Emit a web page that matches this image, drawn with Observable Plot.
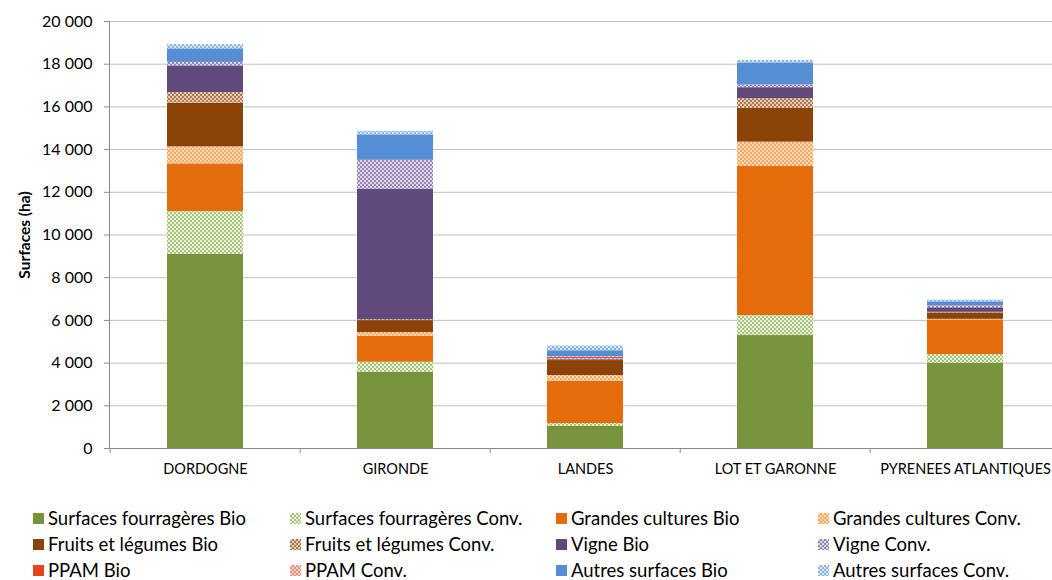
<!DOCTYPE html>
<html>
<head>
<meta charset="utf-8">
<script src="https://cdn.jsdelivr.net/npm/d3@7"></script>
<script src="https://cdn.jsdelivr.net/npm/@observablehq/plot@0.6"></script>
<style>
  html, body { margin: 0; padding: 0; background: #fff; overflow: hidden; width: 1052px; height: 580px; }
  #chart { position: relative; width: 1052px; height: 580px; overflow: hidden; font-family: Lato, "Open Sans", sans-serif; }
  #chart > svg { display: block; max-width: none !important; width: 1062px; height: 490px; }
  g[aria-label="y-axis label"] text { font-weight: bold; font-size: 15.5px; }
  #legend { position: absolute; left: 33px; top: 505px; display: grid; grid-template-columns: 257px 266px 262px 240px; grid-auto-rows: 26px; font-size: 18.5px; color: #000; }
  #legend div { display: flex; align-items: center; white-space: nowrap; }
  #legend svg { margin-right: 4px; }
</style>
</head>
<body>
<div id="chart"></div>
<script>
const regions = ["DORDOGNE", "GIRONDE", "LANDES", "LOT ET GARONNE", "PYRENEES ATLANTIQUES"];
const seriesNames = [
  "Surfaces fourragères Bio", "Surfaces fourragères Conv.",
  "Grandes cultures Bio", "Grandes cultures Conv.",
  "Fruits et légumes Bio", "Fruits et légumes Conv.",
  "Vigne Bio", "Vigne Conv.",
  "PPAM Bio", "PPAM Conv.",
  "Autres surfaces Bio", "Autres surfaces Conv."
];
// values per region, in the order of `regions`
const fourrageresBio  = [9090, 3570, 1050, 5290, 4000];
const fourrageresConv = [2010,  470,  120,  940,  400];
const grandesBio      = [2230, 1220, 1980, 6980, 1620];
const grandesConv     = [ 800,  170,  270, 1140,   30];
const fruitsBio       = [2040,  560,  700, 1580,  300];
const fruitsConv      = [ 500,   40,   20,  460,   30];
const vigneBio        = [1250, 6120,   40,  510,  210];
const vigneConv       = [ 160, 1340,   30,  120,   60];
const ppamBio         = [  10,   10,   50,   10,   20];
const ppamConv        = [   0,    0,   40,    0,   10];
const autresBio       = [ 630, 1190,  280, 1030,  190];
const autresConv      = [ 200,  170,  220,  120,   80];

const seriesValues = [fourrageresBio, fourrageresConv, grandesBio, grandesConv, fruitsBio, fruitsConv,
  vigneBio, vigneConv, ppamBio, ppamConv, autresBio, autresConv];

// fill style per series: solid colour or pattern [base, light]
const solid = { 0: "#77933C", 2: "#E46C0A", 4: "#8B4308", 6: "#604A7B", 8: "#E8431F", 10: "#558ED5" };
const patterns = { 1: ["#A9C47F", "#E8F0D8"], 3: ["#F9A65A", "#FDDDBF"], 5: ["#B07A50", "#E4CBB6"],
  7: ["#9A86B4", "#DED6E8"], 9: ["#EF8A7A", "#FBD6CF"], 11: ["#8DB3E2", "#D8E6F6"] };
const fills = seriesNames.map((s, i) => solid[i] ?? `url(#pat${i})`);

const data = [];
seriesNames.forEach((s, i) => regions.forEach((r, j) => data.push({ region: r, series: s, value: seriesValues[i][j] })));

const W = 1062, H = 490, mL = 109, mR = 0, mT = 21, mB = 42;
const step = (W - mL - mR) / regions.length;
const fmt = d => d3.format(",")(d).replace(/,/g, " ");

const plot = Plot.plot({
  width: W, height: H,
  marginLeft: mL, marginRight: mR, marginTop: mT, marginBottom: mB,
  style: { fontFamily: "Lato, 'Open Sans', sans-serif", fontSize: "16px", color: "#000", overflow: "visible", maxWidth: "none" },
  x: { domain: regions, paddingInner: 0.6, paddingOuter: 0.3, label: null },
  y: { domain: [0, 20000], label: null },
  color: { domain: seriesNames, range: fills },
  marks: [
    Plot.gridY({ interval: 2000, stroke: "#BFBFBF", strokeOpacity: 1, strokeWidth: 1 }),
    Plot.barY(data, { x: "region", y: "value", fill: "series", order: null }),
    Plot.ruleY([0], { stroke: "#898989" }),
    Plot.frame({ anchor: "left", stroke: "#898989" }),
    Plot.ruleX(regions, { x: d => d, y1: 0, y2: 0, insetBottom: -5, dx: -step / 2, stroke: "#898989" }),
    Plot.axisY({ interval: 2000, tickFormat: fmt, tickSize: 5, tickPadding: 12, stroke: "#898989",
      label: "Surfaces (ha)", labelAnchor: "center", labelArrow: "none", labelOffset: 91, fontSize: 16 }),
    Plot.axisX({ tickSize: 0, tickPadding: 15, fontSize: 14.5 })
  ]
});

// define patterns
const defs = d3.select(plot).insert("defs", ":first-child");
Object.entries(patterns).forEach(([i, [base, light]]) => {
  const p = defs.append("pattern").attr("id", `pat${i}`).attr("patternUnits", "userSpaceOnUse")
    .attr("width", 4).attr("height", 4);
  p.append("rect").attr("width", 4).attr("height", 4).attr("fill", base);
  p.append("rect").attr("width", 2).attr("height", 2).attr("fill", light);
  p.append("rect").attr("x", 2).attr("y", 2).attr("width", 2).attr("height", 2).attr("fill", light);
});

const chart = document.getElementById("chart");
chart.appendChild(plot);

const legend = document.createElement("div");
legend.id = "legend";
seriesNames.forEach((name, i) => {
  const item = document.createElement("div");
  item.innerHTML = `<svg width="11" height="11"><rect width="11" height="11" fill="${fills[i]}"></rect></svg><span>${name}</span>`;
  legend.appendChild(item);
});
chart.appendChild(legend);
</script>
</body>
</html>
